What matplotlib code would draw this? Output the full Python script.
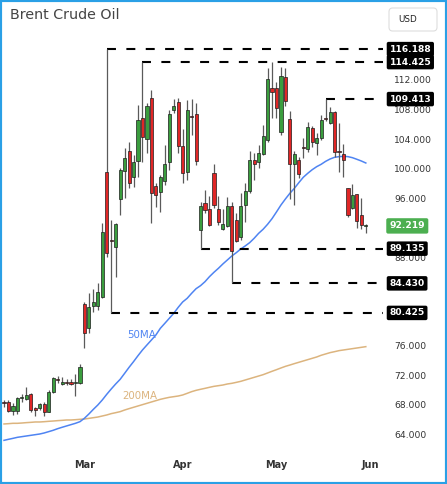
import matplotlib
matplotlib.use("Agg")
import matplotlib.pyplot as plt
from matplotlib.patches import Rectangle, FancyBboxPatch
import numpy as np

# ---------------- data ----------------
title = "Brent Crude Oil"
currency = "USD"
month_labels = ["Mar", "Apr", "May", "Jun"]
bars_per_month = [18, 22, 21, 21]   # visible Feb bars, Mar, Apr, May

opens = [68.30, 68.39, 67.13, 67.17, 68.85, 68.76, 69.39, 67.49, 67.49, 68.03,
         67.04, 69.75, 71.42, 70.74, 71.01, 71.01, 70.90, 70.88,
         81.59, 78.34, 81.36, 81.36, 82.54, 99.48, 90.26, 89.32, 95.82, 99.71,
         102.42, 98.90, 101.06, 106.80, 103.96, 109.51, 97.63, 96.86, 98.31, 100.93,
         107.93, 109.06,
         103.05, 99.57, 107.03, 107.39, 91.67, 95.37, 94.47, 99.35, 94.47, 91.80,
         92.25, 94.96, 93.02, 90.76, 95.05, 96.95, 101.15, 100.84, 101.92, 103.87,
         110.87,
         110.87, 104.91, 112.45, 106.67, 100.57, 101.15, 102.83, 102.60, 105.54, 103.41,
         104.09, 106.80, 106.13, 107.62, 102.37, 101.97, 97.31, 94.60, 96.50, 93.70,
         92.18]
highs = [68.62, 68.62, 68.17, 68.98, 69.43, 70.34, 69.52, 67.72, 68.25, 68.39,
         69.98, 71.78, 71.92, 71.78, 71.50, 71.50, 72.10, 73.45,
         81.95, 83.08, 83.62, 84.44, 92.66, 116.188, 93.02, 92.66, 100.02, 102.74,
         103.64, 101.83, 108.61, 114.425, 108.84, 110.64, 97.99, 99.12, 103.19, 107.93,
         109.38, 109.51,
         105.31, 109.29, 109.38, 108.84, 95.51, 97.09, 96.27, 100.61, 96.27, 94.51,
         96.18, 95.51, 93.92, 96.73, 97.99, 102.42, 102.06, 103.19, 105.90, 113.58,
         114.425,
         111.77, 113.81, 113.58, 107.84, 102.42, 101.61, 104.09, 106.35, 105.76, 104.77,
         107.26, 109.413, 108.38, 107.84, 106.13, 103.32, 97.40, 97.90, 96.50, 95.96,
         92.48]
lows = [67.72, 67.04, 66.59, 66.68, 68.39, 68.62, 67.04, 66.50, 67.26, 66.50,
        66.95, 69.52, 70.88, 70.60, 70.60, 70.60, 69.16, 70.74,
        75.62, 77.75, 80.59, 80.82, 82.40, 88.05, 80.425, 85.34, 93.70, 95.96,
        97.31, 97.54, 98.90, 100.93, 102.06, 92.66, 94.83, 94.15, 97.77, 99.80,
        107.48, 102.15,
        97.99, 98.44, 104.54, 100.48, 89.135, 93.92, 92.21, 94.60, 92.30, 91.67,
        92.12, 84.430, 90.08, 90.31, 92.80, 96.64, 98.44, 100.03, 101.83, 103.64,
        106.80,
        106.80, 104.54, 108.48, 95.82, 95.05, 98.67, 101.38, 102.28, 102.96, 101.83,
        103.87, 106.49, 106.04, 101.61, 99.57, 98.90, 93.47, 94.47, 91.89, 91.76,
        91.21]
closes = [68.15, 67.13, 67.81, 68.85, 69.07, 69.30, 67.26, 67.30, 68.03, 66.95,
          69.75, 71.65, 71.33, 71.10, 70.92, 70.74, 70.95, 73.14,
          77.66, 81.27, 81.95, 83.31, 91.44, 88.50, 90.13, 92.48, 99.80, 101.47,
          98.08, 100.93, 106.58, 104.32, 108.48, 96.64, 96.41, 98.81, 100.57, 107.39,
          108.52, 103.05,
          99.35, 107.93, 106.94, 101.06, 94.92, 94.38, 92.30, 95.05, 92.80, 92.43,
          94.96, 88.86, 90.22, 94.96, 96.95, 101.15, 100.57, 102.06, 104.41, 112.14,
          110.33,
          108.16, 112.59, 109.20, 100.57, 101.97, 99.26, 102.80, 105.67, 103.55, 104.09,
          106.58, 106.67, 107.71, 102.28, 102.28, 101.15, 93.70, 96.41, 92.93, 92.34,
          92.219]

ma50 = [63.15, 63.29, 63.42, 63.56, 63.65, 63.74, 63.83, 63.92, 64.01, 64.15,
        64.33, 64.51, 64.73, 64.92, 65.10, 65.28, 65.46, 65.68, 66.14, 66.72,
        67.35, 67.94, 68.62, 69.39, 70.11, 70.79, 71.42, 72.23, 73.05, 73.82,
        74.63, 75.40, 76.08, 76.75, 77.43, 78.34, 79.01, 79.69, 80.37, 81.18,
        81.91, 82.40, 83.08, 83.71, 84.12, 84.66, 85.34, 85.93, 86.47, 87.06,
        87.60, 88.14, 88.59, 89.09, 89.50, 89.95, 90.54, 91.21, 91.76, 92.43,
        93.20, 94.11, 95.05, 95.87, 96.64, 97.31, 98.08, 98.81, 99.35, 99.84,
        100.25, 100.57, 100.97, 101.29, 101.52, 101.61, 101.65, 101.61, 101.47, 101.25,
        101.02, 100.75]
ma200 = [65.37, 65.41, 65.46, 65.46, 65.50, 65.55, 65.59, 65.64, 65.64, 65.68,
         65.73, 65.77, 65.82, 65.86, 65.91, 65.91, 65.95, 66.00, 66.04, 66.13,
         66.22, 66.31, 66.45, 66.59, 66.77, 66.90, 67.04, 67.26, 67.45, 67.63,
         67.81, 67.99, 68.17, 68.35, 68.53, 68.71, 68.85, 68.98, 69.07, 69.16,
         69.30, 69.52, 69.75, 69.93, 70.07, 70.20, 70.34, 70.47, 70.56, 70.65,
         70.79, 70.88, 71.01, 71.15, 71.33, 71.51, 71.69, 71.87, 72.05, 72.28,
         72.51, 72.73, 72.96, 73.18, 73.36, 73.55, 73.73, 73.91, 74.09, 74.27,
         74.45, 74.68, 74.86, 75.04, 75.17, 75.31, 75.40, 75.49, 75.58, 75.67,
         75.76, 75.85]

resistance_levels = [116.188, 114.425, 109.413]
support_levels = [89.135, 84.430, 80.425]
y_ticks = [64, 68, 72, 76, 88, 96, 100, 104, 108, 112]

# ---------------- styling ----------------
GREEN = "#3a9d3e"
RED = "#e02626"
WICK = "#5a5a5a"
BLUE = "#4f84f2"
TAN = "#dcb47e"
FRAME = "#2aa0e6"

W, H = 447, 484
fig = plt.figure(figsize=(W / 100, H / 100), dpi=100)
fig.patch.set_facecolor("white")

ax_left, ax_right, ax_top, ax_bottom = 2, 383, 35, 452
ax = fig.add_axes([ax_left / W, 1 - ax_bottom / H,
                   (ax_right - ax_left) / W, (ax_bottom - ax_top) / H])
ax.set_facecolor("white")

o = np.array(opens); h = np.array(highs); l = np.array(lows); c = np.array(closes)
x = np.arange(len(o))

ax.set_xlim(-0.45, 84.85)
ax.set_ylim(61.57, 118.10)

# moving averages
ax.plot(x, ma200, color=TAN, lw=1.1, zorder=2)
ax.plot(x, ma50, color=BLUE, lw=1.1, zorder=2)

# dashed levels
xmax = ax.get_xlim()[1]
for lv in resistance_levels:
    i0 = int(np.argmin(np.abs(h - lv)))
    ax.hlines(lv, i0, xmax, colors="black", lw=1.5, linestyles=(0, (4.3, 5.0)), zorder=3)
for lv in support_levels:
    i0 = int(np.argmin(np.abs(l - lv)))
    ax.hlines(lv, i0, xmax, colors="black", lw=1.5, linestyles=(0, (4.3, 5.0)), zorder=3)

# candles
up = c >= o
colors = np.where(up, GREEN, RED)
ax.vlines(x, l, h, colors=WICK, lw=0.9, zorder=4)
body_bottom = np.minimum(o, c)
body_h = np.maximum(np.abs(c - o), 0.12)
ax.bar(x, body_h, bottom=body_bottom, width=0.7, color=colors,
       edgecolor="#1e1e1e", linewidth=0.5, zorder=5)

# axes cosmetics
for s in ax.spines.values():
    s.set_visible(False)
ax.yaxis.tick_right()
ax.set_yticks(y_ticks)
ax.set_yticklabels([f"{v:.3f}" for v in y_ticks])
ax.tick_params(axis="y", length=0, pad=8, labelsize=6.6, labelcolor="#333333")
for t in ax.get_yticklabels():
    t.set_horizontalalignment("left")

month_pos = np.cumsum(bars_per_month)[:len(month_labels)]
ax.set_xticks(month_pos)
ax.set_xticklabels(month_labels)
ax.tick_params(axis="x", length=0, pad=6, labelsize=7, labelcolor="#333333")
for t in ax.get_xticklabels():
    t.set_fontweight("semibold")

# price labels on right
trans = ax.get_yaxis_transform()
lab_x = 1.017
for lv in resistance_levels + support_levels:
    ax.text(lab_x, lv, f"{lv:.3f}", transform=trans, ha="left", va="center",
            fontsize=6.6, fontweight="bold", color="white", zorder=10, clip_on=False,
            bbox=dict(boxstyle="round,pad=0.3,rounding_size=0.2", fc="black", ec="none"))
ax.text(lab_x, c[-1], f"{c[-1]:.3f}", transform=trans, ha="left", va="center",
        fontsize=6.6, fontweight="bold", color="white", zorder=10, clip_on=False,
        bbox=dict(boxstyle="round,pad=0.35,rounding_size=0.2", fc="#4caf50", ec="none"))

# MA labels
ax.text(27.5, 77.4, "50MA", color=BLUE, fontsize=7.4, ha="left", va="center", zorder=6)
ax.text(26.4, 69.16, "200MA", color=TAN, fontsize=7.4, ha="left", va="center", zorder=6)

# title and currency box
fig.text(10 / W, 1 - 15 / H, title, fontsize=10.3, color="#444444", ha="left", va="center")
fig.add_artist(FancyBboxPatch((389 / W, 1 - 31 / H), 48 / W, 23 / H,
                              boxstyle="round,pad=0,rounding_size=0.008",
                              transform=fig.transFigure, fc="white", ec="#dddddd", lw=0.8))
fig.text(408 / W, 1 - 19 / H, currency, fontsize=6.3, color="#222222", ha="center", va="center")

# outer frame
fig.add_artist(Rectangle((0, 0), 1, 1, transform=fig.transFigure, fill=False,
                         ec=FRAME, lw=3))

fig.savefig("out.png", dpi=100, facecolor="white")
